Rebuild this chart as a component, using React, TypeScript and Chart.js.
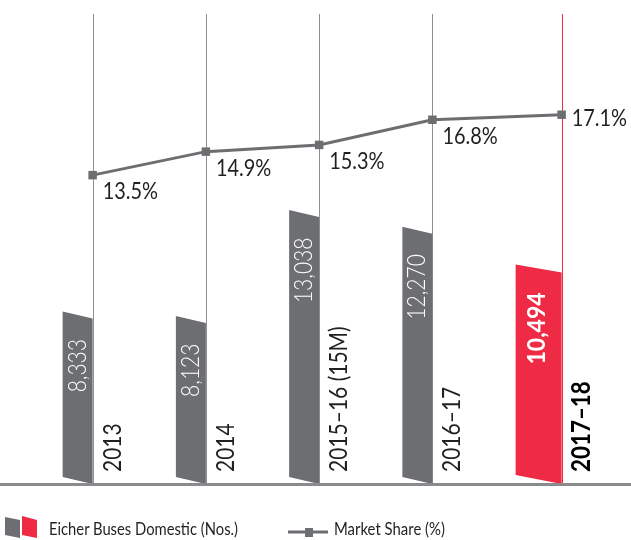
import React, { useEffect, useRef } from 'react';
import { Chart, registerables } from 'chart.js';

Chart.register(...registerables);

// ---- data ----
const CATEGORIES = ['2013', '2014', '2015–16 (15M)', '2016–17', '2017–18'];
const BUS_VOLUMES = [8333, 8123, 13038, 12270, 10494];
const MARKET_SHARE = [13.5, 14.9, 15.3, 16.8, 17.1];

// ---- styles ----
const GRAY = '#6d6e71';
const RED = '#ee2a45';
const BAR_COLORS = [GRAY, GRAY, GRAY, GRAY, RED];
const BAR_WIDTHS = [30, 30, 30, 30, 46];
const HIGHLIGHT = [false, false, false, false, true];
const LINE_COLOR = '#6d6e71';
const TEXT_COLOR = '#231f20';
const FONT = 'Lato, "Liberation Sans", sans-serif';

const fmtVolume = (v: number) => v.toLocaleString('en-US');
const fmtShare = (v: number) => v.toFixed(1) + '%';

function drawText(ctx: any, text: string, x: number, y: number, opts: any) {
  ctx.save();
  ctx.translate(x, y);
  if (opts.rotate) ctx.rotate(opts.rotate);
  ctx.scale(opts.sx || 1, 1);
  ctx.font = opts.font;
  ctx.fillStyle = opts.color;
  ctx.textAlign = opts.align || 'left';
  ctx.textBaseline = opts.baseline || 'alphabetic';
  ctx.fillText(text, 0, 0);
  ctx.restore();
}

const shapesPlugin = {
  id: 'shapes',
  afterDatasetsUpdate(chart: any) {
    const barMeta = chart.getDatasetMeta(0);
    const lineMeta = chart.getDatasetMeta(1);
    lineMeta.data.forEach((pt: any, i: number) => {
      const b = barMeta.data[i];
      pt.x = b.x + BAR_WIDTHS[i];
    });
  },
  beforeDatasetsDraw(chart: any) {
    const { ctx, chartArea } = chart;
    const barMeta = chart.getDatasetMeta(0);
    ctx.save();
    barMeta.data.forEach((b: any, i: number) => {
      const x = Math.round(b.x + BAR_WIDTHS[i]) + 0.5;
      ctx.strokeStyle = HIGHLIGHT[i] ? RED : '#8f9093';
      ctx.lineWidth = 1;
      ctx.beginPath();
      ctx.moveTo(x, chartArea.top);
      ctx.lineTo(x, chartArea.bottom);
      ctx.stroke();
    });
    ctx.restore();
  },
  beforeDatasetDraw(chart: any, args: any) {
    if (args.index !== 0) return;
    const { ctx, chartArea } = chart;
    const meta = chart.getDatasetMeta(0);
    const base = chartArea.bottom;
    ctx.save();
    meta.data.forEach((b: any, i: number) => {
      const left = b.x;
      const w = BAR_WIDTHS[i];
      const right = left + w;
      const ts = HIGHLIGHT[i] ? 8 : 7;
      const bs = HIGHLIGHT[i] ? 9 : 7;
      ctx.fillStyle = BAR_COLORS[i];
      ctx.beginPath();
      ctx.moveTo(left, b.y - ts / 2);
      ctx.lineTo(right, b.y + ts / 2);
      ctx.lineTo(right, base);
      ctx.lineTo(left, base - bs);
      ctx.closePath();
      ctx.fill();
    });
    ctx.restore();
    return false;
  },
  afterDatasetsDraw(chart: any) {
    const { ctx, chartArea, width } = chart;
    const barMeta = chart.getDatasetMeta(0);
    const lineMeta = chart.getDatasetMeta(1);
    ctx.save();
    // baseline
    ctx.strokeStyle = '#8a8b8d';
    ctx.lineWidth = 3;
    ctx.beginPath();
    ctx.moveTo(0, chartArea.bottom + 0.5);
    ctx.lineTo(width, chartArea.bottom + 0.5);
    ctx.stroke();

    barMeta.data.forEach((b: any, i: number) => {
      const w = BAR_WIDTHS[i];
      const hi = HIGHLIGHT[i];
      drawText(ctx, fmtVolume(BUS_VOLUMES[i]), b.x + w / 2 + (hi ? -2 : 0), b.y + 24, {
        rotate: -Math.PI / 2,
        sx: hi ? 0.92 : 0.84,
        font: (hi ? '700 ' : '300 ') + '25px ' + FONT,
        color: '#ffffff',
        align: 'right',
        baseline: 'middle',
      });
      drawText(ctx, CATEGORIES[i], b.x + w + 28, 472, {
        rotate: -Math.PI / 2,
        sx: hi ? 0.86 : 0.84,
        font: (hi ? '700 26px ' : '400 25px ') + FONT,
        color: hi ? '#000000' : TEXT_COLOR,
        align: 'left',
      });
    });

    const n = lineMeta.data.length;
    lineMeta.data.forEach((p: any, i: number) => {
      const dy = i === n - 1 ? 11 : 24;
      drawText(ctx, fmtShare(MARKET_SHARE[i]), p.x + 10, p.y + dy, {
        sx: 0.83,
        font: '400 24px ' + FONT,
        color: TEXT_COLOR,
      });
    });
    ctx.restore();
  },
};

export default function App() {
  const ref = useRef<HTMLCanvasElement>(null);
  useEffect(() => {
    const chart = new Chart(ref.current as HTMLCanvasElement, {
      type: 'bar',
      data: {
        labels: CATEGORIES,
        datasets: [
          {
            type: 'bar',
            label: 'Eicher Buses Domestic (Nos.)',
            data: BUS_VOLUMES,
            backgroundColor: BAR_COLORS,
            yAxisID: 'y',
            order: 2,
          },
          {
            type: 'line',
            label: 'Market Share (%)',
            data: MARKET_SHARE,
            yAxisID: 'y2',
            borderColor: LINE_COLOR,
            borderWidth: 3,
            pointStyle: 'rect',
            pointRadius: 6,
            pointBackgroundColor: LINE_COLOR,
            pointBorderWidth: 0,
            tension: 0,
            clip: false,
            order: 1,
          },
        ],
      } as any,
      options: {
        responsive: false,
        animation: false,
        events: [],
        layout: { padding: { left: 6, right: 58.75, top: 14, bottom: 56 } },
        plugins: { legend: { display: false }, tooltip: { enabled: false } },
        scales: {
          x: { type: 'category', offset: true, display: false },
          y: { display: false, beginAtZero: false, min: 500, max: 22290 },
          y2: { display: false, beginAtZero: false, min: -4.9, max: 23.1 },
        },
      } as any,
      plugins: [shapesPlugin as any],
    });
    return () => chart.destroy();
  }, []);

  return (
    <div style={{ position: 'fixed', left: 0, top: 0, width: 631, height: 540, background: '#ffffff' }}>
      <canvas ref={ref} width={631} height={540} style={{ position: 'absolute', left: 0, top: 0 }} />
      <svg width={631} height={40} style={{ position: 'absolute', left: 0, top: 500 }}>
        <polygon points="5,17 20,20 20,38 5,35" fill={GRAY} />
        <polygon points="22,16 37,20 37,38 22,35" fill={RED} />
        <text x={49} y={35} fontFamily={FONT} fontWeight={400} fontSize={18} fill={TEXT_COLOR}
          textLength={189} lengthAdjust="spacingAndGlyphs">Eicher Buses Domestic (Nos.)</text>
        <line x1={288} y1={32} x2={328} y2={32} stroke={LINE_COLOR} strokeWidth={3} />
        <rect x={305} y={28} width={8} height={9} fill={LINE_COLOR} />
        <text x={334} y={35} fontFamily={FONT} fontWeight={400} fontSize={18} fill={TEXT_COLOR}
          textLength={111} lengthAdjust="spacingAndGlyphs">Market Share (%)</text>
      </svg>
    </div>
  );
}
